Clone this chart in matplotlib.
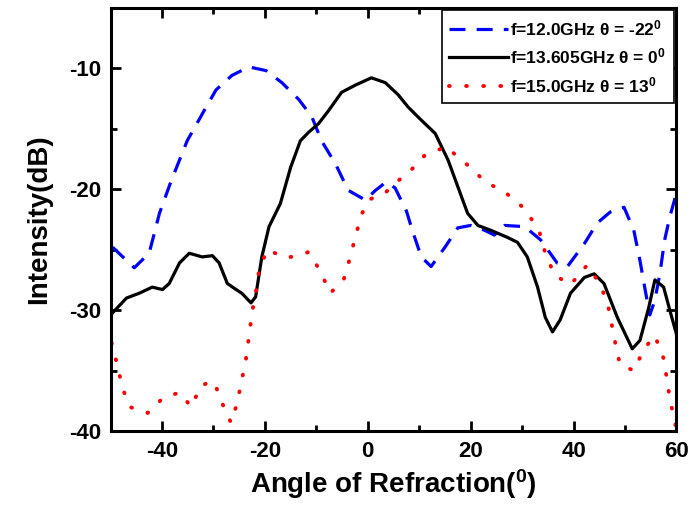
import matplotlib.pyplot as plt
from matplotlib.ticker import MultipleLocator

plt.rcParams["font.family"] = ["Liberation Sans", "DejaVu Sans"]
plt.rcParams["font.weight"] = "bold"
plt.rcParams["axes.unicode_minus"] = False
plt.rcParams["mathtext.fontset"] = "custom"
plt.rcParams["mathtext.rm"] = "Liberation Sans:bold"
plt.rcParams["mathtext.it"] = "Liberation Sans:bold"
plt.rcParams["mathtext.bf"] = "Liberation Sans:bold"

# f = 12.0 GHz
ang_12 = [-49.6, -45.4, -42.5, -40.5, -38.2, -35.1, -31.4, -29.5, -26.4, -23.1,
          -19.8, -16.7, -13.4, -10.9, -9.0, -6.3, -3.8, -0.5, 1.5, 3.6, 5.3,
          7.5, 8.8, 10.4, 12.3, 15.0, 17.5, 20.0, 22.7, 24.6, 26.6, 30.5, 33.6,
          36.8, 38.8, 42.1, 44.6, 47.1, 49.8, 51.7, 52.9, 53.9, 54.8, 55.8,
          56.8, 57.7, 58.7, 60.0]
db_12 = [-24.8, -26.5, -25.3, -22.0, -19.3, -16.0, -13.2, -11.8, -10.6, -9.9,
         -10.2, -11.2, -12.6, -14.0, -16.0, -17.9, -20.1, -20.9, -20.1, -19.4,
         -19.9, -21.8, -23.6, -25.6, -26.4, -24.8, -23.2, -23.0, -23.4, -23.8,
         -23.0, -23.1, -24.2, -26.1, -26.4, -24.5, -22.8, -21.9, -21.5, -23.4,
         -25.9, -28.3, -30.4, -29.2, -26.9, -24.2, -22.3, -20.3]

# f = 13.605 GHz
ang_13 = [-50.0, -46.9, -44.4, -41.9, -39.9, -38.6, -36.6, -34.7, -32.2, -30.2,
          -28.9, -27.3, -25.6, -24.5, -22.7, -21.8, -20.6, -19.2, -17.0, -15.0,
          -13.1, -11.5, -9.6, -7.6, -5.1, -2.4, 0.7, 3.4, 5.9, 7.8, 10.4, 13.1,
          15.6, 17.5, 19.4, 21.4, 23.9, 27.2, 29.1, 31.0, 33.0, 34.5, 35.9,
          37.4, 39.4, 42.1, 44.0, 45.9, 48.5, 51.4, 52.9, 54.6, 55.8, 57.5,
          58.7, 60.0]
db_13 = [-30.4, -29.0, -28.6, -28.1, -28.3, -27.8, -26.1, -25.3, -25.6, -25.5,
         -26.1, -27.8, -28.3, -28.6, -29.4, -28.9, -25.6, -23.1, -21.2, -18.2,
         -16.0, -15.3, -14.6, -13.5, -12.0, -11.4, -10.8, -11.2, -12.2, -13.2,
         -14.3, -15.4, -17.6, -19.8, -22.0, -23.0, -23.4, -24.0, -24.4, -25.6,
         -28.1, -30.6, -31.8, -30.8, -28.6, -27.3, -27.0, -27.8, -30.6, -33.2,
         -32.5, -29.8, -27.5, -28.1, -30.0, -32.0]

# f = 15.0 GHz
ang_15 = [-49.8, -48.6, -47.7, -46.3, -42.8, -39.9, -36.6, -34.3, -32.4, -29.9,
          -28.3, -26.6, -25.4, -24.5, -23.7, -23.1, -22.5, -21.8, -21.2, -19.6,
          -15.8, -11.5, -9.2, -7.3, -4.7, -3.4, -2.4, -1.2, 0.1, 3.4, 5.9, 7.8,
          11.1, 15.2, 19.1, 22.9, 26.8, 30.7, 33.4, 34.5, 36.3, 39.4, 42.6,
          44.6, 46.5, 48.1, 49.0, 51.7, 53.7, 55.8, 57.5, 58.1, 58.7, 59.8]
db_15 = [-32.7, -34.7, -36.4, -38.0, -38.5, -37.3, -36.8, -38.0, -36.2, -35.9,
         -37.7, -39.3, -37.7, -35.8, -34.1, -32.2, -30.2, -28.6, -26.9, -25.0,
         -25.7, -25.2, -26.8, -28.6, -27.5, -25.6, -23.9, -22.1, -20.9, -20.3,
         -19.3, -18.7, -17.2, -16.5, -17.9, -19.4, -20.3, -21.7, -23.6, -25.3,
         -27.1, -27.9, -26.3, -27.5, -29.2, -32.7, -34.5, -35.0, -33.2, -32.1,
         -34.0, -35.6, -37.3, -39.5]

labels = [r"f=12.0GHz θ = -22$^{0}$",
          r"f=13.605GHz θ = 0$^{0}$",
          r"f=15.0GHz θ = 13$^{0}$"]

fig, ax = plt.subplots(figsize=(6.91, 5.09), dpi=100)
fig.subplots_adjust(left=0.16, right=0.979, top=0.985, bottom=0.153)

ax.plot(ang_12, db_12, color="blue", linewidth=2.3, dashes=(5, 3.5),
        dash_capstyle="butt", label=labels[0])
ax.plot(ang_13, db_13, color="black", linewidth=2.3, label=labels[1])
ax.plot(ang_15, db_15, color="red", linewidth=2.8, dashes=(0.2, 4.2),
        dash_capstyle="round", label=labels[2])

ax.set_xlim(-50, 60)
ax.set_ylim(-40, -5)
ax.xaxis.set_major_locator(MultipleLocator(20))
ax.xaxis.set_minor_locator(MultipleLocator(10))
ax.yaxis.set_major_locator(MultipleLocator(10))
ax.yaxis.set_minor_locator(MultipleLocator(5))
ax.tick_params(which="both", direction="in", top=True, right=True, width=2)
ax.tick_params(which="major", length=7, labelsize=16, pad=7)
ax.tick_params(which="minor", length=4)
for s in ax.spines.values():
    s.set_linewidth(2.2)

ax.set_xlabel(r"Angle of Refraction($^{0}$)", fontsize=20, fontweight="bold",
              labelpad=4)
ax.set_ylabel("Intensity(dB)", fontsize=20, fontweight="bold", labelpad=12)

leg = ax.legend(loc="upper right", fontsize=12.5, borderaxespad=0.15,
                fancybox=False, handlelength=3.4, handletextpad=0.1,
                labelspacing=0.5, borderpad=0.45, framealpha=1)
leg.get_frame().set_edgecolor("black")
leg.get_frame().set_linewidth(1.2)

fig.savefig("out.png", dpi=100)
